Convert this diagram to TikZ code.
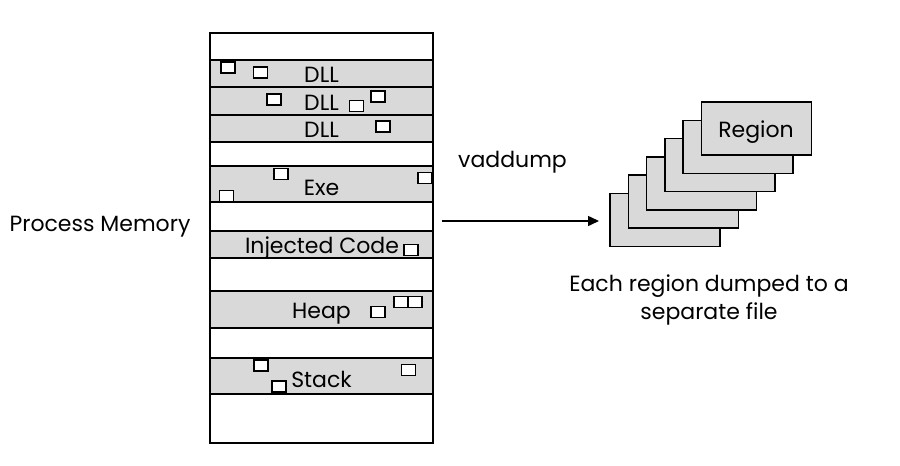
\documentclass[tikz,border=0pt]{standalone}
\usepackage{fontspec}
\setmainfont{Poppins}
\usetikzlibrary{arrows.meta}
\newlength{\du}
\setlength{\du}{1pt}
\definecolor{bandgray}{rgb}{0.850000, 0.850000, 0.850000}
\newcommand{\pagebox}[2]{\filldraw[fill=white] (#1\du,#2\du) rectangle ++(14\du,11\du);}
\newcommand{\memband}[3]{\filldraw[fill=bandgray] (210\du,#1\du) rectangle (433\du,#2\du);
\node[lbl] at (321.5\du,#3\du) {DLL};}

\begin{document}
\begin{tikzpicture}[lbl/.style={inner sep=0pt,font=\fontsize{22}{28}\selectfont}]
\pgftransformxscale{1.000000}
\pgftransformyscale{-1.000000}
\useasboundingbox (0\du,0\du) rectangle (900\du,466\du);
\pgfsetlinewidth{1.500000\du}
\pgfsetmiterjoin
% memory column
\filldraw[fill=white] (210\du,33\du) rectangle (433\du,443\du);
\node[lbl] (procmem) at (100\du,227\du) {Process Memory};
\memband{60}{87}{75}
\memband{87}{115}{103}
\memband{115}{142}{130}
\filldraw[fill=bandgray] (210\du,166\du) rectangle (433\du,202\du);
\node[lbl] (exe) at (321.5\du,187.5\du) {Exe};
\filldraw[fill=bandgray] (210\du,231\du) rectangle (433\du,258\du);
\node[lbl] (injected) at (322\du,247.5\du) {Injected Code};
\filldraw[fill=bandgray] (210\du,291\du) rectangle (433\du,328\du);
\node[lbl] (heap) at (321.5\du,314\du) {Heap};
\filldraw[fill=bandgray] (210\du,358\du) rectangle (433\du,394\du);
\node[lbl] (stack) at (321.5\du,379.5\du) {Stack};
% pages
\pgfsetlinewidth{1.200000\du}
\pagebox{221}{62}
\pagebox{253.5}{67}
\pagebox{267}{94}
\pagebox{349.5}{100.5}
\pagebox{371}{91}
\pagebox{376}{121}
\pagebox{274}{168.5}
\pagebox{418}{172.5}
\pagebox{219.5}{190.5}
\pagebox{404}{244.5}
\pagebox{371}{306.5}
\pagebox{394}{296.5}
\pagebox{408}{296.5}
\pagebox{254}{360}
\pagebox{272}{381}
\pagebox{401.5}{364.5}
% vaddump
\pgfsetlinewidth{1.500000\du}
\coordinate (dumpstart) at (441.5\du,221\du);
\coordinate (dumpend) at (599\du,221\du);
\draw[-{Triangle[length=11pt,width=10pt]}] (dumpstart)--(dumpend);
\node[lbl] (vaddump) at (512.5\du,162.5\du) {vaddump};
% dumped regions
\foreach \i in {0,...,5}{
\filldraw[fill=bandgray] ({610pt+18.3pt*\i},{193.5pt-18.3pt*\i}) rectangle ++(110\du,53\du);
}
\node[lbl] (region) at (756\du,132.5\du) {Region};
\node[lbl,align=center] (eachregion) at (709\du,300\du) {Each region dumped to a\\separate file};
\end{tikzpicture}
\end{document}
